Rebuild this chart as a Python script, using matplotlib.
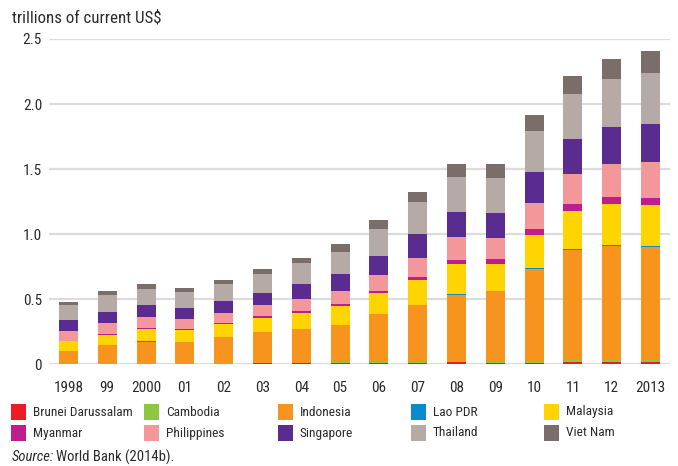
import numpy as np
import matplotlib.pyplot as plt
from matplotlib.patches import Rectangle

plt.rcParams['font.family'] = ['Roboto Condensed', 'Roboto', 'DejaVu Sans']

years = ['1998', '99', '2000', '01', '02', '03', '04', '05', '06', '07',
         '08', '09', '10', '11', '12', '2013']

# GDP, billions of current US$
brunei = [4.1, 4.6, 6.0, 5.6, 5.8, 6.6, 7.9, 9.5, 11.5, 12.2, 14.4, 10.7, 12.4, 16.7, 17.0, 16.1]
cambodia = [3.1, 3.5, 3.7, 4.0, 4.3, 4.7, 5.3, 6.3, 7.3, 8.6, 10.4, 10.4, 11.2, 12.8, 14.0, 15.2]
indonesia = [95.4, 140, 165, 160, 196, 235, 257, 286, 365, 432, 510, 540, 709, 846, 877, 868]
lao = [1.3, 1.5, 1.7, 1.7, 1.8, 2.0, 2.4, 2.7, 3.5, 4.2, 5.4, 5.8, 7.1, 8.3, 9.4, 11.1]
malaysia = [72, 79, 94, 92, 101, 110, 125, 144, 163, 194, 231, 202, 255, 298, 314, 313]
myanmar = [6, 7, 9, 6.5, 6.8, 10.5, 10.6, 12, 14.5, 20, 31, 37, 47, 53, 55, 57]
philippines = [72, 83, 81, 76, 81, 84, 91, 103, 122, 149, 174, 168, 200, 224, 250, 272]
singapore = [85, 86, 96, 90, 92, 98, 115, 127, 148, 180, 193, 192, 236, 275, 290, 298]
thailand = [113, 127, 126, 120, 127, 143, 161, 176, 207, 247, 273, 264, 319, 346, 366, 387]
vietnam = [27, 28.7, 31, 32.7, 35, 39.6, 45.4, 57.6, 66, 77.4, 99, 106, 116, 136, 156, 171]

countries = ['Brunei Darussalam', 'Cambodia', 'Indonesia', 'Lao PDR', 'Malaysia',
             'Myanmar', 'Philippines', 'Singapore', 'Thailand', 'Viet Nam']
series = [brunei, cambodia, indonesia, lao, malaysia,
          myanmar, philippines, singapore, thailand, vietnam]
colors = ['#ED1C24', '#8DC63F', '#F7941D', '#0A8BD0', '#FFD400',
          '#BE1E8C', '#F4979B', '#5B2C8F', '#B5AAA5', '#7B6E6A']

txt = '#2b2b2b'
W, H = 678, 466
fig = plt.figure(figsize=(W / 100, H / 100), dpi=100)
ax = fig.add_axes([49 / W, (H - 364.3) / H, (670 - 49) / W, (364.3 - 39) / H])

x = np.arange(len(years))
bottom = np.zeros(len(years))
for vals, c in zip(series, colors):
    v = np.array(vals) / 1000.0
    ax.bar(x, v, 0.49, bottom=bottom, color=c, linewidth=0, zorder=3)
    bottom += v

ax.set_xlim(-0.5, len(years) - 0.5)
ax.set_ylim(0, 2.5)
ax.set_yticks([0, 0.5, 1.0, 1.5, 2.0, 2.5])
ax.set_yticklabels(['0', '0.5', '1.0', '1.5', '2.0', '2.5'])
ax.set_xticks(x)
ax.set_xticklabels(years)
ax.tick_params(length=0, labelsize=11, colors=txt)
ax.tick_params(axis='y', pad=5)
ax.tick_params(axis='x', pad=12)
ax.yaxis.grid(True, color='#dcdcdc', linewidth=1.6, zorder=0)
ax.set_axisbelow(True)
for s in ax.spines.values():
    s.set_visible(False)

fig.text(12 / W, 1 - 23 / H, 'trillions of current US$', fontsize=12.2, color=txt,
         va='baseline', ha='left')

# legend, 2 rows x 5 columns
for i, (name, c) in enumerate(zip(countries, colors)):
    row, col = i // 5, i % 5
    x0 = 11 + col * 133.3
    yc = 412 + row * 21
    fig.add_artist(Rectangle((x0 / W, 1 - (yc + 8) / H), 15 / W, 16 / H,
                             transform=fig.transFigure, color=c, lw=0))
    fig.text((x0 + 22) / W, 1 - yc / H, name, fontsize=9.6, color=txt,
             va='center', ha='left')

fig.text(12 / W, 1 - 457 / H, 'Source:', fontsize=10.5, color=txt,
         style='italic', va='center', ha='left')
fig.text(56 / W, 1 - 457 / H, 'World Bank (2014b).', fontsize=10.5, color=txt,
         va='center', ha='left')

fig.savefig('out.png', dpi=100)
